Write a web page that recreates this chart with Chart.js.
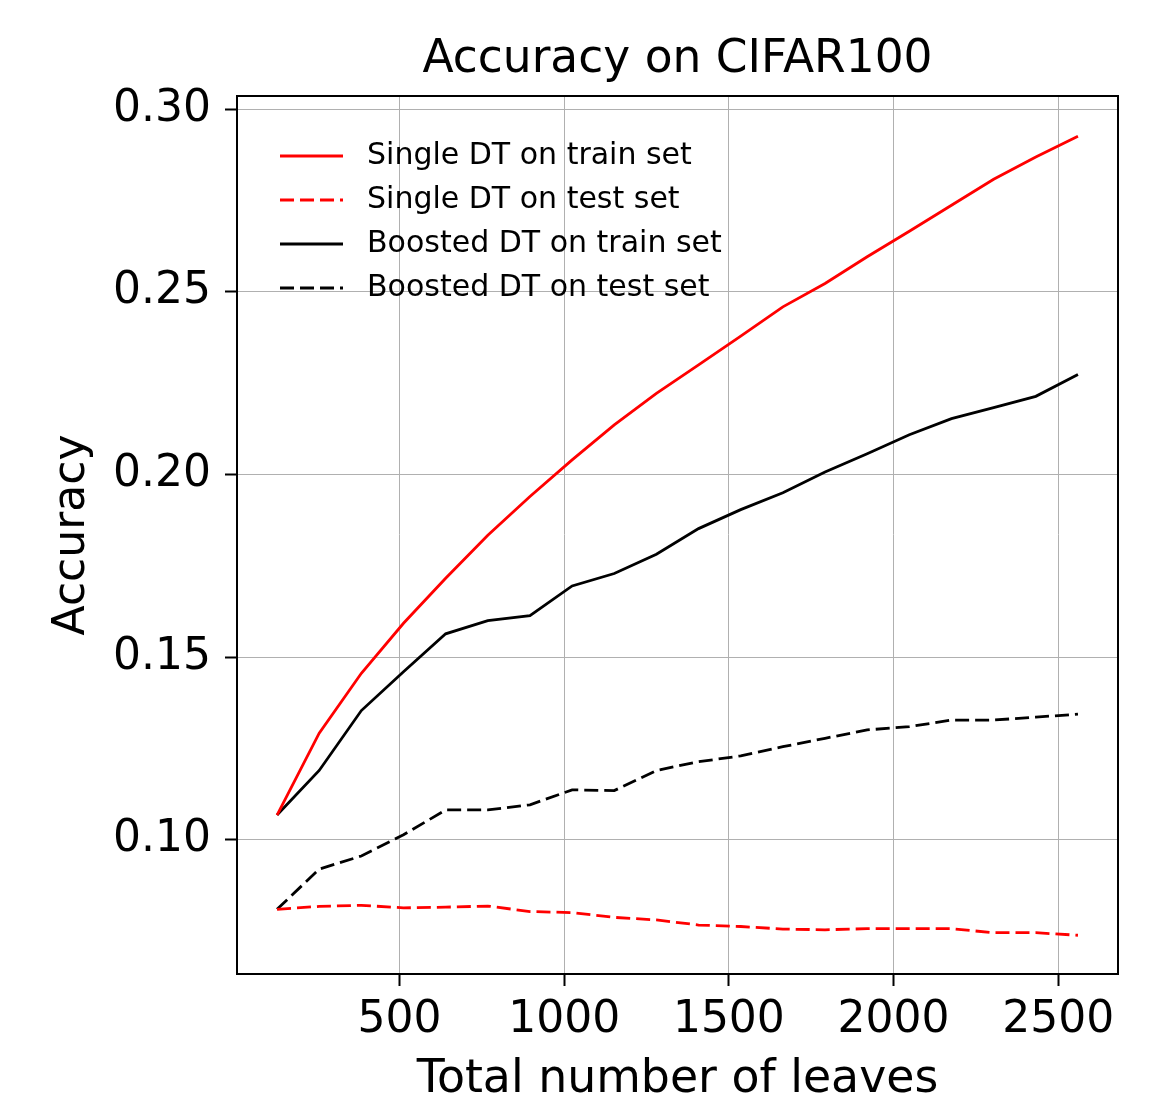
<!DOCTYPE html>
<html>
<head>
<meta charset="utf-8">
<script src="https://cdn.jsdelivr.net/npm/chart.js@4.4.1/dist/chart.umd.min.js"></script>
<style>
  html, body { margin: 0; padding: 0; background: #ffffff; }
  #wrap { width: 1153px; height: 1103px; }
</style>
</head>
<body>
<div id="wrap"><canvas id="c" width="1153" height="1103"></canvas></div>
<script>
// ---- data ----
const leaves = [128, 256, 384, 512, 640, 768, 896, 1024, 1152, 1280, 1408, 1536, 1664, 1792, 1920, 2048, 2176, 2304, 2432, 2560];
const singleTrain = [0.1068, 0.1292, 0.1456, 0.1593, 0.1716, 0.1834, 0.1940, 0.2040, 0.2136, 0.2222, 0.2300, 0.2379, 0.2459, 0.2523, 0.2596, 0.2666, 0.2737, 0.2808, 0.2869, 0.2926];
const singleTest = [0.0810, 0.0818, 0.0821, 0.0814, 0.0816, 0.0819, 0.0804, 0.0801, 0.0788, 0.0781, 0.0767, 0.0763, 0.0756, 0.0754, 0.0757, 0.0757, 0.0757, 0.0746, 0.0746, 0.0739];
const boostedTrain = [0.1068, 0.1190, 0.1354, 0.1460, 0.1564, 0.1600, 0.1614, 0.1695, 0.1729, 0.1782, 0.1852, 0.1904, 0.1950, 0.2007, 0.2057, 0.2109, 0.2153, 0.2183, 0.2214, 0.2274];
const boostedTest = [0.0810, 0.0920, 0.0956, 0.1014, 0.1082, 0.1082, 0.1096, 0.1137, 0.1135, 0.1190, 0.1214, 0.1230, 0.1255, 0.1278, 0.1301, 0.1310, 0.1328, 0.1328, 0.1336, 0.1344];
const seriesLabels = ['Single DT on train set', 'Single DT on test set', 'Boosted DT on train set', 'Boosted DT on test set'];
const xTicks = [500, 1000, 1500, 2000, 2500];
const yTicks = [0.10, 0.15, 0.20, 0.25, 0.30];
const titleText = 'Accuracy on CIFAR100';
const xTitle = 'Total number of leaves';
const yTitle = 'Accuracy';

const FONT = "'DejaVu Sans', 'Liberation Sans', sans-serif";
const DASH = [14, 6];
const LW = 2.8;

function pts(vals) { return leaves.map((x, i) => ({ x: x, y: vals[i] })); }

const frameAndLegend = {
  id: 'frameAndLegend',
  afterDatasetsDraw(chart) {
    const { ctx, chartArea: a } = chart;
    ctx.save();
    ctx.strokeStyle = '#000';
    ctx.lineWidth = 2;
    ctx.setLineDash([]);
    ctx.strokeRect(a.left, a.top, a.right - a.left, a.bottom - a.top);

    // title centred over the plot area
    ctx.font = '45.5px ' + FONT;
    ctx.fillStyle = '#000';
    ctx.textAlign = 'center';
    ctx.textBaseline = 'middle';
    ctx.fillText(titleText, (a.left + a.right) / 2, 60);

    // legend (inside plot, upper-left)
    const x0 = a.left + 43, x1 = a.left + 106, tx = a.left + 130;
    const y0 = a.top + 60, dy = 44;
    ctx.font = '30px ' + FONT;
    ctx.textBaseline = 'middle';
    ctx.textAlign = 'left';
    chart.data.datasets.forEach((ds, i) => {
      const y = y0 + i * dy;
      ctx.beginPath();
      ctx.strokeStyle = ds.borderColor;
      ctx.lineWidth = LW;
      ctx.setLineDash(ds.borderDash || []);
      ctx.moveTo(x0, y);
      ctx.lineTo(x1, y);
      ctx.stroke();
      ctx.setLineDash([]);
      ctx.fillStyle = '#000';
      ctx.fillText(ds.label, tx, y);
    });
    ctx.restore();
  }
};

const ctx = document.getElementById('c').getContext('2d');
new Chart(ctx, {
  type: 'line',
  data: {
    datasets: [
      { label: seriesLabels[0], data: pts(singleTrain), borderColor: '#ff0000', borderWidth: LW, borderDash: [], pointRadius: 0, tension: 0, fill: false },
      { label: seriesLabels[1], data: pts(singleTest), borderColor: '#ff0000', borderWidth: LW, borderDash: DASH, pointRadius: 0, tension: 0, fill: false },
      { label: seriesLabels[2], data: pts(boostedTrain), borderColor: '#000000', borderWidth: LW, borderDash: [], pointRadius: 0, tension: 0, fill: false },
      { label: seriesLabels[3], data: pts(boostedTest), borderColor: '#000000', borderWidth: LW, borderDash: DASH, pointRadius: 0, tension: 0, fill: false }
    ]
  },
  options: {
    responsive: false,
    animation: false,
    devicePixelRatio: 1,
    layout: { padding: { top: 96, left: 0, right: 35, bottom: 0 } },
    plugins: {
      legend: { display: false },
      tooltip: { enabled: false },
      title: { display: false }
    },
    scales: {
      x: {
        type: 'linear',
        min: 6.4,
        max: 2681.6,
        afterFit(scale) { scale.height = 129; },
        afterBuildTicks(scale) { scale.ticks = xTicks.map(v => ({ value: v })); },
        grid: { color: '#b0b0b0', lineWidth: 1, drawTicks: true, tickLength: 12, tickColor: '#000', tickWidth: 2 },
        border: { display: true, color: '#000', width: 2 },
        ticks: { color: '#000', font: { family: FONT, size: 44 }, padding: 8, maxRotation: 0, autoSkip: false, callback: v => String(v) },
        title: { display: true, text: xTitle, color: '#000', font: { family: FONT, size: 45.8, lineHeight: 1.2 }, padding: { top: 0, bottom: -5 } }
      },
      y: {
        type: 'linear',
        min: 0.0633,
        max: 0.3036,
        afterFit(scale) { scale.width = 237; },
        afterBuildTicks(scale) { scale.ticks = yTicks.map(v => ({ value: v })); },
        grid: { color: '#b0b0b0', lineWidth: 1, drawTicks: true, tickLength: 12, tickColor: '#000', tickWidth: 2 },
        border: { display: true, color: '#000', width: 2 },
        ticks: { color: '#000', font: { family: FONT, size: 44 }, padding: 14, autoSkip: false, callback: v => Number(v).toFixed(2) },
        title: { display: true, text: yTitle, color: '#000', font: { family: FONT, size: 44, lineHeight: 1.2 }, padding: { top: 46, bottom: 0 } }
      }
    }
  },
  plugins: [frameAndLegend]
});
</script>
</body>
</html>
